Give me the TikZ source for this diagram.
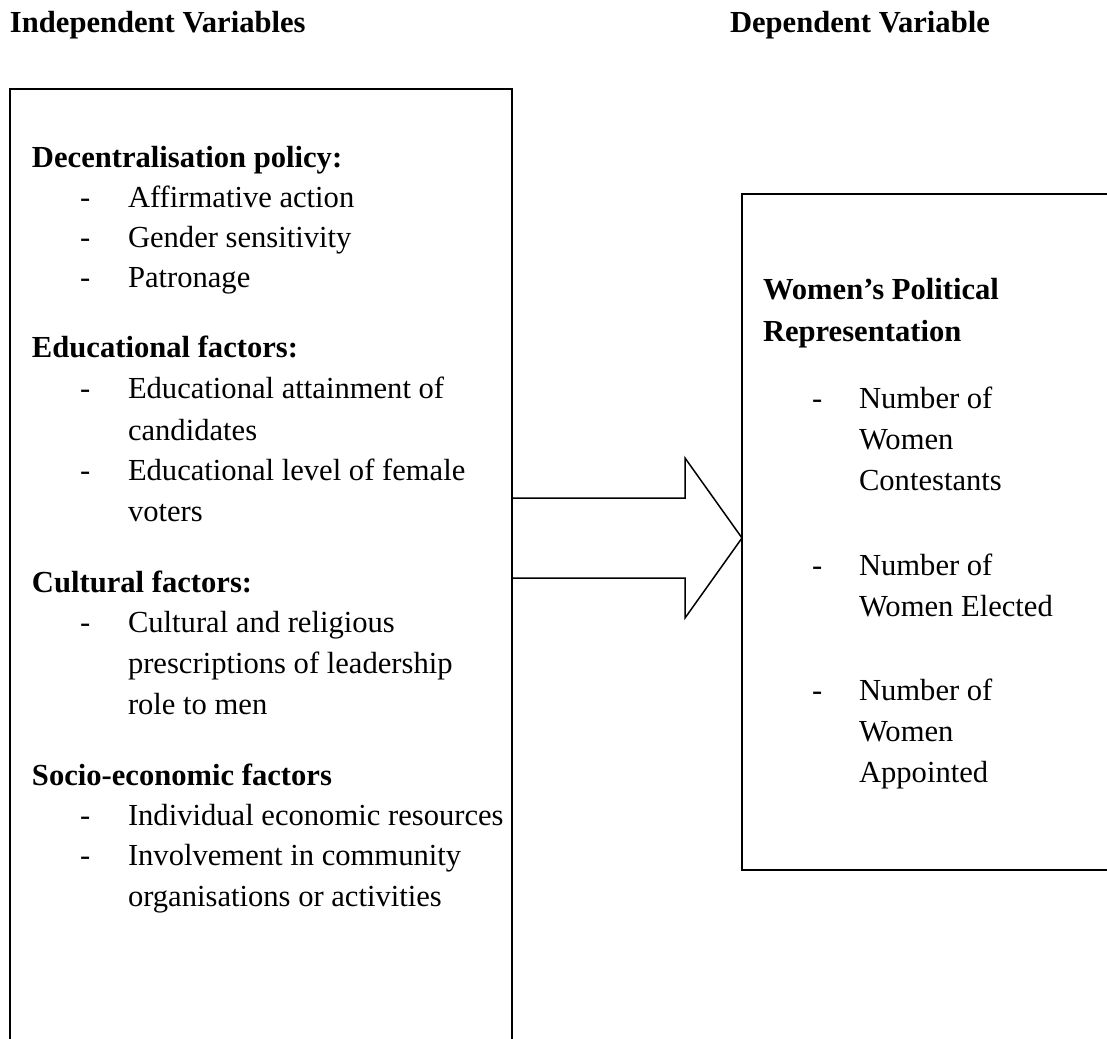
\documentclass[tikz,border=0pt]{standalone}
\usepackage{fontspec}
\setmainfont{Liberation Serif}

\def\zeile#1#2#3#4{
	\node[anchor=base west] (#1) at (#2,#3) {#4};
}
\def\punkt#1#2#3#4#5{
	\node[anchor=base west] (#1s) at (#2,#4) {-};
	\node[anchor=base west] (#1) at (#3,#4) {#5};
}

\begin{document}
\begin{tikzpicture}[x=0.5pt,y=-0.5pt,line width=0.75pt,
	every node/.style={inner sep=0pt,outer sep=0pt,font=\fontsize{15.3}{18}\selectfont},
	kasten/.style={draw,anchor=north west,inner sep=0pt,outer sep=0pt}]
\useasboundingbox (0,0) rectangle (1107,1038);

\node[kasten,minimum width=251pt,minimum height=530pt] (links) at (10,89) {};
\node[kasten,minimum width=250pt,minimum height=338pt] (rechts) at (742,194) {};

\coordinate (spitze) at (rechts.west |- 0,538);
\draw[line join=miter] (links.east |- 0,498) -- ++(173,0) -- ++(0,-40) -- (spitze)
	-- ++(-57,80) -- ++(0,-40) -- (links.east |- 0,578);

\zeile{unabh}{10}{33}{\textbf{Independent Variables}}
\zeile{abh}{730}{33}{\textbf{Dependent Variable}}

\zeile{dezentral}{32}{167}{\textbf{Decentralisation policy:}}
\punkt{affirm}{80}{128}{207}{Affirmative action}
\punkt{gender}{80}{128}{247}{Gender sensitivity}
\punkt{patron}{80}{128}{287}{Patronage}
\zeile{bildung}{32}{357}{\textbf{Educational factors:}}
\punkt{bildA}{80}{128}{398}{Educational attainment of}
\zeile{bildAb}{128}{440}{candidates}
\punkt{bildB}{80}{128}{480}{Educational level of female}
\zeile{bildBb}{128}{521}{voters}
\zeile{kultur}{32}{592}{\textbf{Cultural factors:}}
\punkt{kultA}{80}{128}{632}{Cultural and religious}
\zeile{kultAb}{128}{673}{prescriptions of leadership}
\zeile{kultAc}{128}{714}{role to men}
\zeile{sozio}{32}{785}{\textbf{Socio-economic factors}}
\punkt{sozA}{80}{128}{825}{Individual economic resources}
\punkt{sozB}{80}{128}{865}{Involvement in community}
\zeile{sozBb}{128}{906}{organisations or activities}

\zeile{frauen}{763}{299}{\textbf{Women’s Political}}
\zeile{repr}{763}{341}{\textbf{Representation}}
\punkt{anzA}{812}{859}{408}{Number of}
\zeile{anzAb}{859}{449}{Women}
\zeile{anzAc}{859}{490}{Contestants}
\punkt{anzB}{812}{859}{575}{Number of}
\zeile{anzBb}{859}{616}{Women Elected}
\punkt{anzC}{812}{859}{700}{Number of}
\zeile{anzCb}{859}{741}{Women}
\zeile{anzCc}{859}{782}{Appointed}
\end{tikzpicture}
\end{document}
